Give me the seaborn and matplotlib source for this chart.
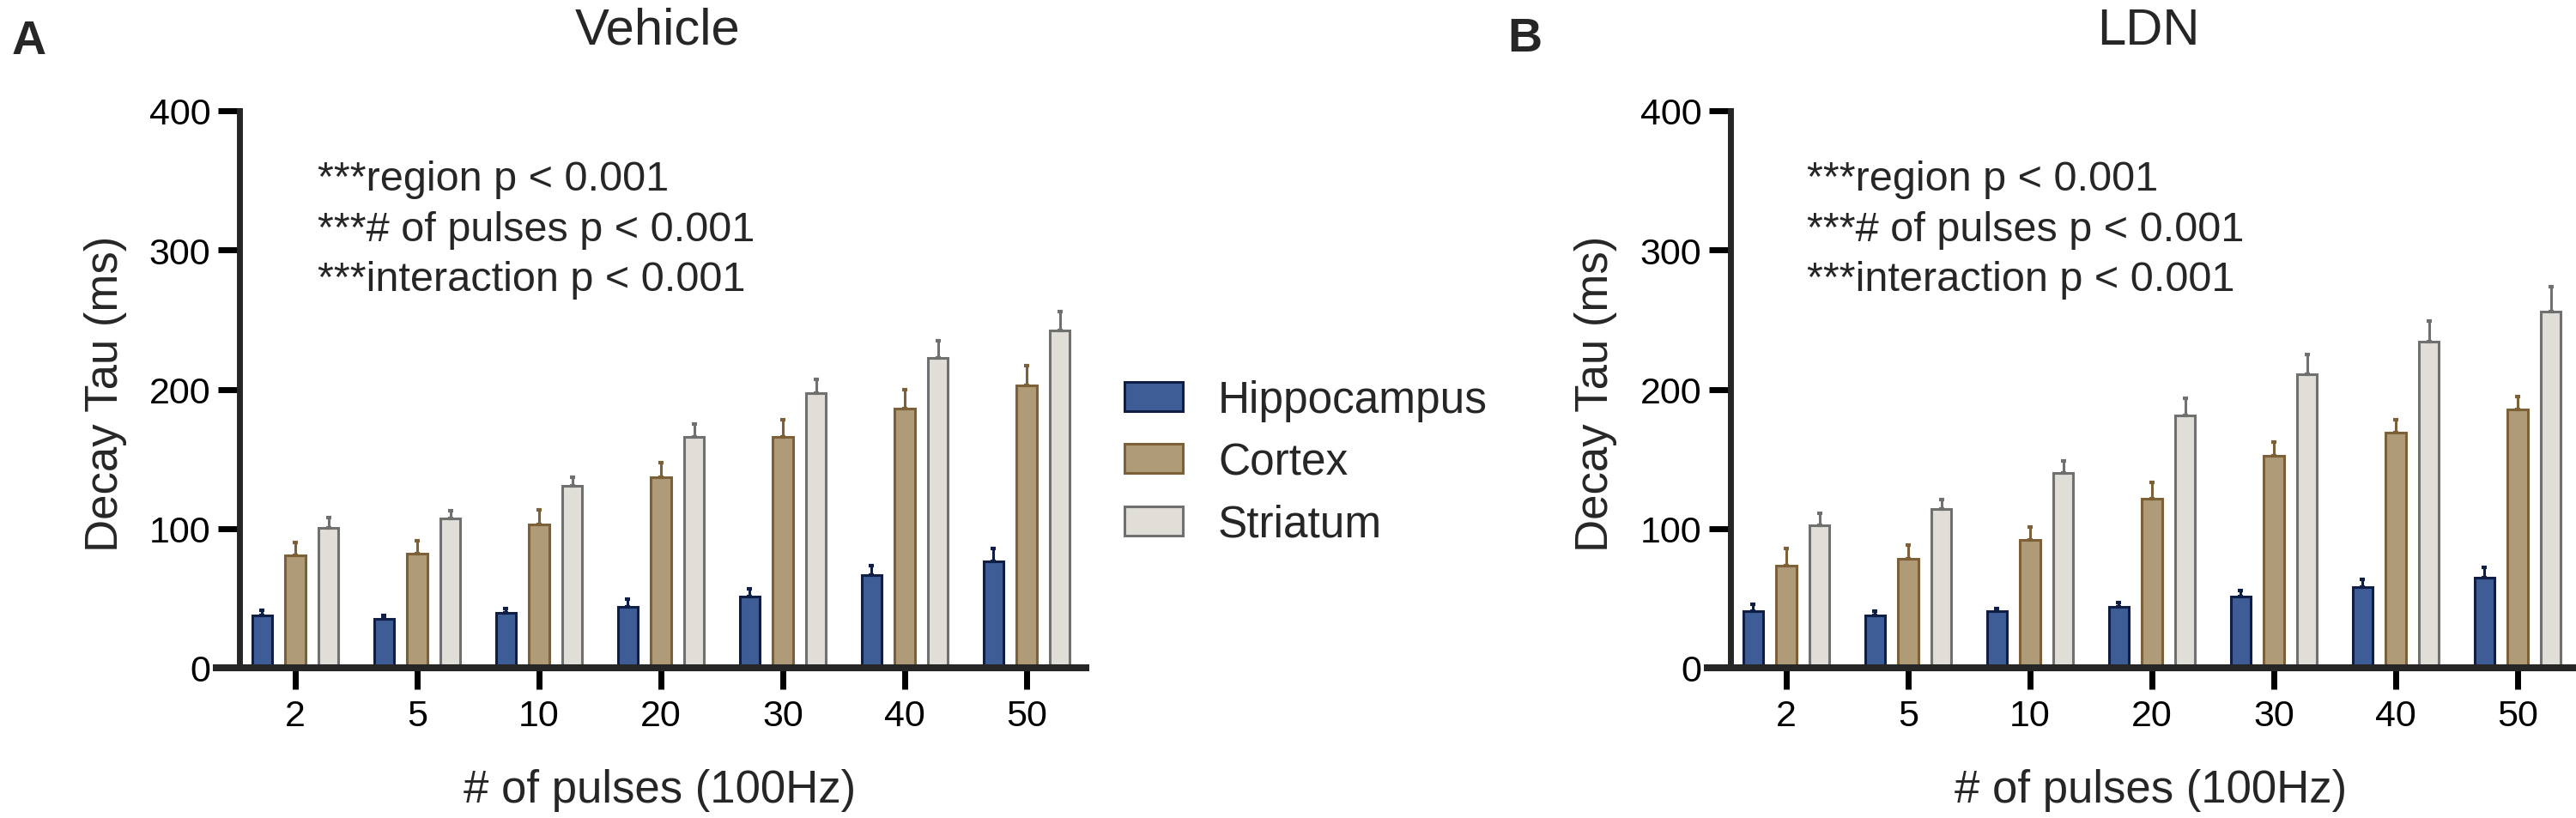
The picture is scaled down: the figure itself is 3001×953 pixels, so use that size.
import numpy as np
import pandas as pd
import matplotlib
matplotlib.use('Agg')
import matplotlib.pyplot as plt
import seaborn as sns

# categories
pulses = ['2', '5', '10', '20', '30', '40', '50']
regions = ['Hippocampus', 'Cortex', 'Striatum']

# Vehicle: mean decay tau (ms) and SEM
veh_hippo = [37.4, 35.0, 39.6, 44.0, 51.0, 66.7, 76.4]
veh_hippo_sem = [3.6, 2.8, 3.1, 5.0, 6.0, 6.8, 9.1]
veh_cortex = [81.0, 82.0, 103.0, 137.0, 165.7, 186.0, 202.5]
veh_cortex_sem = [9.0, 9.4, 10.6, 10.0, 12.3, 13.6, 14.3]
veh_striatum = [100.6, 107.0, 130.8, 166.0, 197.0, 222.8, 242.2]
veh_striatum_sem = [7.0, 6.0, 6.2, 9.0, 10.0, 12.2, 13.3]

# LDN
ldn_hippo = [40.6, 37.8, 40.4, 43.9, 51.2, 58.0, 64.9]
ldn_hippo_sem = [5.2, 2.6, 2.4, 3.0, 4.4, 5.6, 7.5]
ldn_cortex = [73.5, 78.5, 91.9, 121.7, 152.0, 168.6, 185.5]
ldn_cortex_sem = [11.9, 9.7, 9.1, 11.7, 10.0, 9.4, 9.3]
ldn_striatum = [102.3, 114.0, 140.0, 181.0, 210.8, 234.0, 256.0]
ldn_striatum_sem = [8.7, 7.0, 8.5, 12.7, 14.2, 15.0, 17.5]

stats_lines = ['***region p < 0.001',
               '***# of pulses p < 0.001',
               '***interaction p < 0.001']

fills = ['#2F57A5', '#B89D6F', '#E2DFD5']
edges = ['#0F1E45', '#7B6038', '#707070']

sns.set_style('ticks')
plt.rcParams['font.family'] = ['Liberation Sans', 'DejaVu Sans']


def make_df(means, sems):
    rows = []
    for reg, m, s in zip(regions, means, sems):
        for p, v, e in zip(pulses, m, s):
            rows.append({'pulses': p, 'region': reg, 'tau': v, 'sem': e})
    return pd.DataFrame(rows)


veh_df = make_df([veh_hippo, veh_cortex, veh_striatum],
                 [veh_hippo_sem, veh_cortex_sem, veh_striatum_sem])
ldn_df = make_df([ldn_hippo, ldn_cortex, ldn_striatum],
                 [ldn_hippo_sem, ldn_cortex_sem, ldn_striatum_sem])

W, H = 3001, 954
fig = plt.figure(figsize=(W / 100, H / 100), dpi=100)
ax_a = fig.add_axes([252 / W, 1 - 779 / H, 1013 / W, 649 / H])
ax_b = fig.add_axes([1989 / W, 1 - 779 / H, 1013 / W, 649 / H])


def draw_panel(ax, df):
    sns.barplot(data=df, x='pulses', y='tau', hue='region', order=pulses,
                hue_order=regions, palette=fills, width=0.815, gap=0.4,
                errorbar=None, linewidth=2.2, legend=False, ax=ax)
    # one-sided (upper) SEM bars in the outline colour of each region
    for cont, ec, reg in zip(ax.containers, edges, regions):
        sub = df[df['region'] == reg].set_index('pulses').loc[pulses]
        xs = []
        for bar in cont:
            bar.set_edgecolor(ec)
            xs.append(bar.get_x() + bar.get_width() / 2)
        ax.errorbar(xs, sub['tau'], yerr=[np.zeros(len(xs)), sub['sem']],
                    fmt='none', ecolor=ec, elinewidth=2.2, capsize=2,
                    capthick=3)
    ax.set_xlim(-0.648, 6.486)
    ax.set_ylim(0, 400)
    ax.set_yticks([0, 100, 200, 300, 400])
    ax.set_xlabel('')
    ax.set_ylabel('')
    for side in ['top', 'right']:
        ax.spines[side].set_visible(False)
    ax.spines['left'].set_position(('data', -0.46))
    ax.spines['left'].set_linewidth(5)
    ax.spines['bottom'].set_linewidth(5.8)
    ax.tick_params(axis='both', width=5, length=18, labelsize=31,
                   color='black', labelcolor='black')
    ax.tick_params(axis='y', pad=6)
    ax.tick_params(axis='x', pad=8)


draw_panel(ax_a, veh_df)
draw_panel(ax_b, ldn_df)

ax_a.legend(handles=[c[0] for c in ax_a.containers], labels=regions,
            loc='center left', bbox_to_anchor=(1310 / W, 1 - 540 / H),
            bbox_transform=fig.transFigure, frameon=False, fontsize=37,
            handlelength=1.32, handleheight=0.64, handletextpad=0.8,
            labelspacing=0.45, borderpad=0, borderaxespad=0)

# panel letters and titles
fig.text(14 / W, 1 - 63 / H, 'A', fontsize=40, fontweight='bold', va='baseline')
fig.text(1756 / W, 1 - 60 / H, 'B', fontsize=40, fontweight='bold', va='baseline')
fig.text(766 / W, 1 - 52 / H, 'Vehicle', fontsize=43, ha='center', va='baseline')
fig.text(2503 / W, 1 - 52 / H, 'LDN', fontsize=43, ha='center', va='baseline')

# stats text
for left in [370, 2105]:
    for line, base in zip(stats_lines, [222, 281, 339]):
        fig.text(left / W, 1 - base / H, line, fontsize=35, va='baseline')

# axis labels
for cx in [123, 1859]:
    fig.text(cx / W, 1 - 459 / H, 'Decay Tau (ms)', fontsize=38,
             rotation=90, ha='center', va='center')
for cx in [769, 2506]:
    fig.text(cx / W, 1 - 935 / H, '# of pulses (100Hz)', fontsize=38,
             ha='center', va='baseline')

fig.savefig('out.png', dpi=100)
